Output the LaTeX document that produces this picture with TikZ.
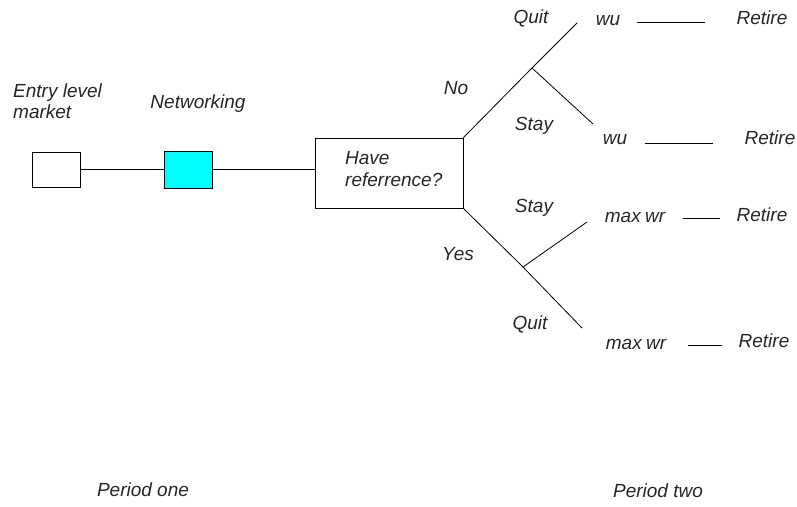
\documentclass[tikz,border=0pt]{standalone}
\usepackage{fontspec}
\setmainfont{Liberation Sans}
\definecolor{aqua}{RGB}{0,255,255}
\begin{document}
\begin{tikzpicture}[x=1pt,y=-1pt,
  lbl/.style={font=\fontsize{19}{21}\selectfont\itshape, inner sep=0pt, text=black!85},
  box/.style={draw, line width=0.9pt, inner sep=0pt},
  ln/.style={line width=0.8pt}]
\useasboundingbox (0,0) rectangle (797,506);
% boxes
\node[box, minimum width=48pt, minimum height=35pt] (entry) at (56,169.5) {};
\node[box, fill=aqua, minimum width=48pt, minimum height=37pt] (net) at (188,169.5) {};
\node[box, minimum width=148pt, minimum height=70pt] (ref) at (389,173) {};
\node[lbl, anchor=west, align=left] (reftext) at (345,169.5) {Have\\[1pt]referrence?};
\draw[ln] (entry.east) -- (net.west);
\draw[ln] (net.east) -- (ref.west |- net.east);
% tree
\coordinate (nb) at (532,68);
\coordinate (nq) at (577,23);
\coordinate (ns) at (593,124);
\coordinate (yb) at (523,267);
\coordinate (ys) at (587,222);
\coordinate (yq) at (582,328);
\draw[ln] (ref.north east) -- (nb) -- (nq);
\draw[ln] (nb) -- (ns);
\draw[ln] (ref.south east) -- (yb) -- (yq);
\draw[ln] (yb) -- (ys);
% labels
\node[lbl, anchor=west, align=left] (entrylbl) at (13,101) {Entry level\\[0pt]market};
\node[lbl] (netlbl) at (198,104) {Networking};
\node[lbl] (quit1) at (531,18) {Quit};
\node[lbl] (no) at (456,88) {No};
\node[lbl] (stay1) at (534,126) {Stay};
\node[lbl] (stay2) at (534,208) {Stay};
\node[lbl] (yes) at (458,254) {Yes};
\node[lbl] (quit2) at (530,324) {Quit};
% outcomes
\node[lbl] (wu1) at (608,21) {wu};
\node[lbl] (r1) at (762,18) {Retire};
\draw[ln] (637,22) coordinate (a1) -- (705,22) coordinate (b1);
\node[lbl] (wu2) at (615,140) {wu};
\node[lbl] (r2) at (770,138) {Retire};
\draw[ln] (645,143) coordinate (a2) -- (713,143) coordinate (b2);
\node[lbl] (mx1) at (635,217) {max\kern-1pt\ wr};
\node[lbl] (r3) at (762,215) {Retire};
\draw[ln] (683,218) coordinate (a3) -- (720,218) coordinate (b3);
\node[lbl] (mx2) at (636,344) {max\kern-1pt\ wr};
\node[lbl] (r4) at (764,341) {Retire};
\draw[ln] (688,345) coordinate (a4) -- (722,345) coordinate (b4);
% periods
\node[lbl] (p1) at (143,490) {Period one};
\node[lbl] (p2) at (658,491) {Period two};
\end{tikzpicture}
\end{document}
